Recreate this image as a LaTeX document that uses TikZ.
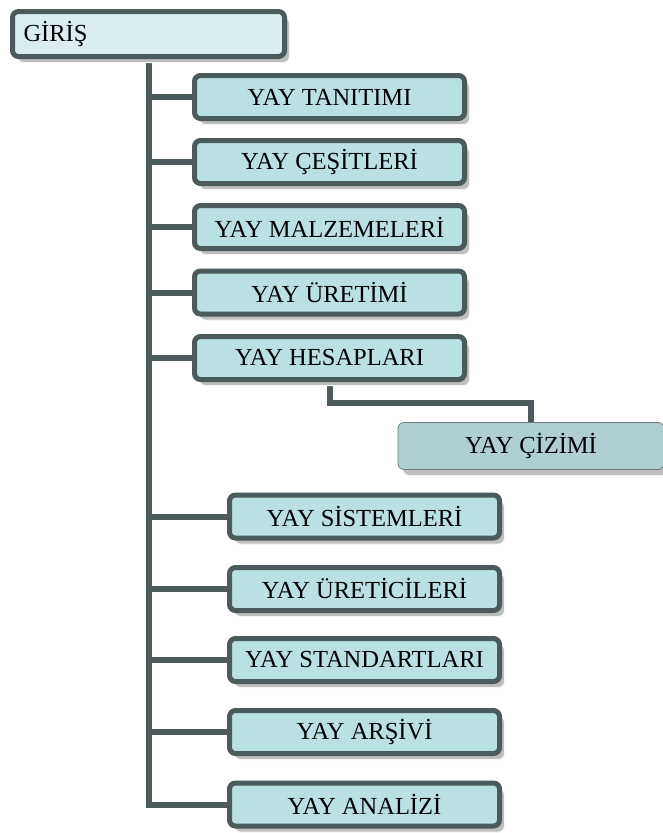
\documentclass[tikz,border=0pt]{standalone}
\usepackage{fontspec}
\setmainfont{Liberation Serif}
\usetikzlibrary{shadows,backgrounds,calc}
\definecolor{edge}{RGB}{75,90,90}
\definecolor{boxfill}{RGB}{185,224,227}
\definecolor{rootfill}{RGB}{218,238,241}
\definecolor{drawfill}{RGB}{174,208,211}
\definecolor{shade}{RGB}{190,190,190}
\tikzset{
  base/.style={rounded corners=6pt, font=\fontsize{24.5}{28}\selectfont, inner sep=0pt,
    general shadow={fill=shade, draw=white!85!shade, line width=1pt, shadow xshift=5pt, shadow yshift=-6pt}},
  item/.style={base, draw=edge, line width=5pt, fill=boxfill, minimum width=270pt, minimum height=43pt},
  rootbox/.style={base, draw=edge, line width=5pt, fill=rootfill, text width=250pt, inner xsep=11pt, align=left, minimum height=45pt},
  subbox/.style={base, draw=edge!80, line width=0.8pt, fill=drawfill, minimum width=266pt, minimum height=47pt},
  conn/.style={draw=edge, line width=6pt}
}
\begin{document}
\begin{tikzpicture}[x=1pt,y=-1pt]
\useasboundingbox (0,0) rectangle (662,833);
\node[rootbox] (giris) at (148.5,34) {GİRİŞ};
\node[item] (c1) at (329.5,97) {YAY TANITIMI};
\node[item] (c2) at (329.5,162) {YAY ÇEŞİTLERİ};
\node[item] (c3) at (329.5,227) {YAY MALZEMELERİ};
\node[item] (c4) at (329.5,292.5) {YAY ÜRETİMİ};
\node[item] (c5) at (329.5,358) {YAY HESAPLARI};
\node[subbox] (cizim) at (531,446) {YAY ÇİZİMİ};
\node[item] (d1) at (364.5,516.5) {YAY SİSTEMLERİ};
\node[item] (d2) at (364.5,589) {YAY ÜRETİCİLERİ};
\node[item] (d3) at (364.5,660) {YAY STANDARTLARI};
\node[item] (d4) at (364.5,732) {YAY ARŞİVİ};
\node[item] (d5) at (364.5,804.5) {YAY ANALİZİ};
\begin{pgfonlayer}{background}
\draw[conn] (giris.south) |- (d5.west);
\foreach \n in {c1,c2,c3,c4,c5,d1,d2,d3,d4}{
  \draw[conn] (giris.south |- \n.west) -- (\n.west);
}
\draw[conn] (c5.south) -- ++(0,21) -| (cizim.north);
\end{pgfonlayer}
\end{tikzpicture}
\end{document}
